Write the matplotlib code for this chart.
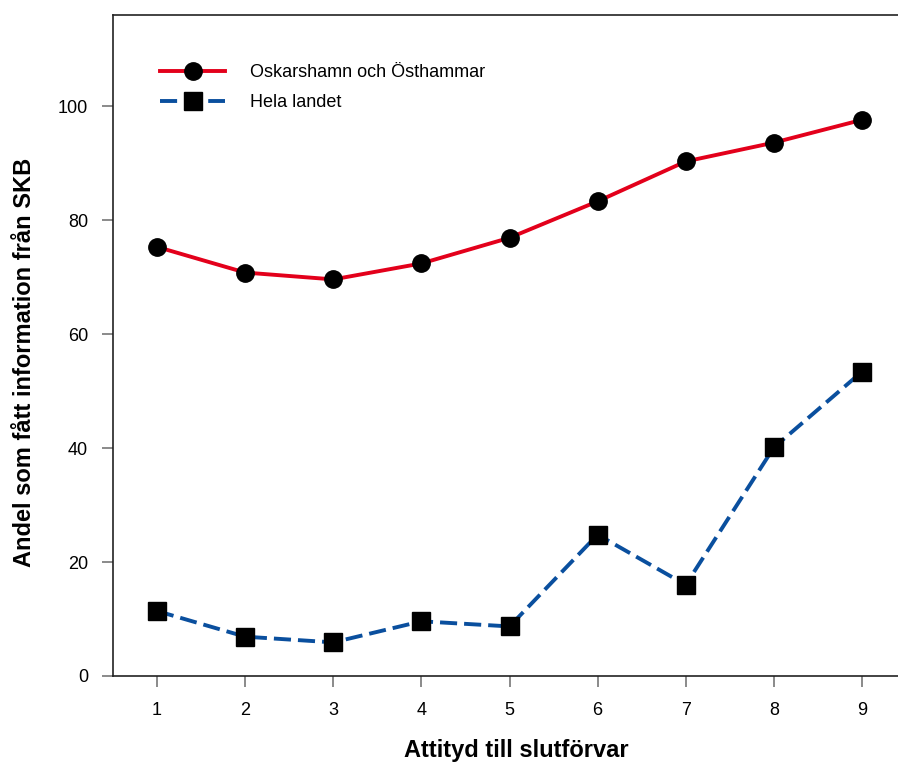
import matplotlib
matplotlib.use('Agg')
from matplotlib import pyplot as plt

plt.rcParams['font.family'] = ['Liberation Sans', 'DejaVu Sans']

attityd = [1, 2, 3, 4, 5, 6, 7, 8, 9]
oskarshamn = [75.3, 70.8, 69.6, 72.4, 76.9, 83.3, 90.3, 93.6, 97.6]
hela_landet = [11.4, 6.9, 5.9, 9.6, 8.7, 24.8, 16.0, 40.1, 53.4]

fig = plt.figure(figsize=(8.98, 7.67), dpi=100)
# axes runs past the right edge of the figure, as in the original
ax = fig.add_axes([113 / 898, 1 - 676 / 767, 793 / 898, 661 / 767])

ax.plot(attityd, oskarshamn, color='#e3001b', linewidth=2.8, marker='o',
        markersize=12.5, markerfacecolor='black', markeredgecolor='black',
        label='Oskarshamn och Östhammar', zorder=3)
ax.plot(attityd, hela_landet, color='#0a4f9e', linewidth=2.8, linestyle=(0, (4.4, 1.8)),
        marker='s', markersize=12.5, markerfacecolor='black', markeredgecolor='black',
        label='Hela landet', zorder=3)

ax.set_xlim(0.5, 9.5)
ax.set_ylim(0, 116)
ax.set_xticks(attityd)
ax.set_yticks([0, 20, 40, 60, 80, 100])

for s in ax.spines.values():
    s.set_linewidth(1.2)
    s.set_color('#222222')

ax.tick_params(axis='both', direction='out', length=8, width=1.2, colors='#777777',
               labelcolor='black', labelsize=13, pad=10)
ax.tick_params(axis='x', pad=11)

ax.set_xlabel('Attityd till slutförvar', fontsize=17, fontweight='bold')
ax.set_ylabel('Andel som fått information från SKB', fontsize=17, fontweight='bold')
ax.xaxis.set_label_coords(0.508, -0.112)
ax.xaxis.label.set_va('center')
ax.yaxis.set_label_coords(-0.111, 0.475)
ax.yaxis.label.set_va('center')

ax.legend(loc='upper left', bbox_to_anchor=(0.039, 0.95), frameon=False, fontsize=13,
          handlelength=3.6, handletextpad=1.38, labelspacing=0.7)

fig.savefig('out.png', dpi=100)
